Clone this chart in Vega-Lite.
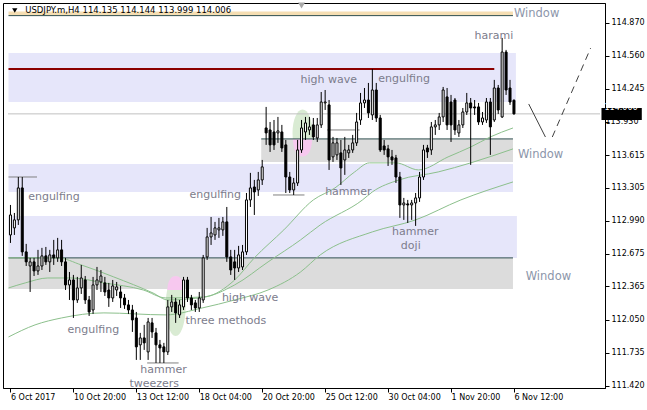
{
"$schema":"https://vega.github.io/schema/vega-lite/v6.json",
"width":602,"height":385,"autosize":{"type":"none"},
"padding":{"left":3,"top":3,"right":42,"bottom":22},
"background":"white",
"config":{"view":{"stroke":"black","strokeWidth":1},"font":"DejaVu Sans"},
"datasets":{
"bars":[
{"i":0,"o":112.855,"c":113.045,"h":113.140,"l":112.779},
{"i":1,"o":112.922,"c":112.998,"h":113.064,"l":112.855},
{"i":2,"o":112.998,"c":113.302,"h":113.406,"l":112.950},
{"i":3,"o":113.302,"c":112.694,"h":113.406,"l":112.656},
{"i":4,"o":112.694,"c":112.599,"h":112.770,"l":112.560},
{"i":5,"o":112.560,"c":112.599,"h":112.637,"l":112.313},
{"i":6,"o":112.599,"c":112.513,"h":112.637,"l":112.465},
{"i":7,"o":112.513,"c":112.560,"h":112.713,"l":112.475},
{"i":8,"o":112.560,"c":112.656,"h":112.732,"l":112.522},
{"i":9,"o":112.656,"c":112.599,"h":112.741,"l":112.570},
{"i":10,"o":112.599,"c":112.665,"h":112.713,"l":112.503},
{"i":11,"o":112.665,"c":112.637,"h":112.808,"l":112.570},
{"i":12,"o":112.637,"c":112.713,"h":112.827,"l":112.599},
{"i":13,"o":112.713,"c":112.599,"h":112.808,"l":112.560},
{"i":14,"o":112.599,"c":112.380,"h":112.637,"l":112.332},
{"i":15,"o":112.380,"c":112.427,"h":112.503,"l":112.237},
{"i":16,"o":112.427,"c":112.237,"h":112.475,"l":112.066},
{"i":17,"o":112.237,"c":112.351,"h":112.456,"l":112.209},
{"i":18,"o":112.351,"c":112.446,"h":112.570,"l":112.294},
{"i":19,"o":112.427,"c":112.237,"h":112.465,"l":112.199},
{"i":20,"o":112.237,"c":112.123,"h":112.275,"l":112.085},
{"i":21,"o":112.142,"c":112.380,"h":112.456,"l":112.104},
{"i":22,"o":112.380,"c":112.427,"h":112.551,"l":112.332},
{"i":23,"o":112.408,"c":112.465,"h":112.522,"l":112.313},
{"i":24,"o":112.399,"c":112.313,"h":112.456,"l":112.275},
{"i":25,"o":112.332,"c":112.256,"h":112.399,"l":112.171},
{"i":26,"o":112.256,"c":112.370,"h":112.427,"l":112.218},
{"i":27,"o":112.332,"c":112.361,"h":112.408,"l":112.275},
{"i":28,"o":112.313,"c":112.256,"h":112.370,"l":112.161},
{"i":29,"o":112.256,"c":112.190,"h":112.294,"l":112.152},
{"i":30,"o":112.190,"c":112.142,"h":112.237,"l":112.104},
{"i":31,"o":112.142,"c":112.047,"h":112.190,"l":111.933},
{"i":32,"o":112.066,"c":111.791,"h":112.123,"l":111.667},
{"i":33,"o":111.810,"c":111.876,"h":111.924,"l":111.667},
{"i":34,"o":111.876,"c":111.829,"h":112.000,"l":111.762},
{"i":35,"o":111.743,"c":112.028,"h":112.066,"l":111.667},
{"i":36,"o":112.019,"c":111.933,"h":112.066,"l":111.876},
{"i":37,"o":111.924,"c":111.810,"h":111.971,"l":111.638},
{"i":38,"o":111.810,"c":111.781,"h":111.857,"l":111.638},
{"i":39,"o":111.791,"c":111.743,"h":111.829,"l":111.638},
{"i":40,"o":111.743,"c":112.171,"h":112.237,"l":111.714},
{"i":41,"o":112.171,"c":112.218,"h":112.285,"l":112.123},
{"i":42,"o":112.218,"c":112.114,"h":112.256,"l":112.019},
{"i":43,"o":112.095,"c":112.190,"h":112.237,"l":112.066},
{"i":44,"o":112.171,"c":112.427,"h":112.456,"l":112.142},
{"i":45,"o":112.427,"c":112.256,"h":112.456,"l":112.218},
{"i":46,"o":112.256,"c":112.190,"h":112.285,"l":112.142},
{"i":47,"o":112.209,"c":112.161,"h":112.237,"l":112.123},
{"i":48,"o":112.161,"c":112.256,"h":112.313,"l":112.123},
{"i":49,"o":112.237,"c":112.637,"h":112.665,"l":112.209},
{"i":50,"o":112.646,"c":112.836,"h":112.922,"l":112.618},
{"i":51,"o":112.836,"c":112.874,"h":113.026,"l":112.760},
{"i":52,"o":112.855,"c":112.922,"h":112.979,"l":112.808},
{"i":53,"o":112.903,"c":112.922,"h":113.017,"l":112.827},
{"i":54,"o":112.903,"c":112.979,"h":113.026,"l":112.846},
{"i":55,"o":112.979,"c":112.646,"h":113.121,"l":112.599},
{"i":56,"o":112.646,"c":112.522,"h":112.713,"l":112.475},
{"i":57,"o":112.599,"c":112.541,"h":112.713,"l":112.427},
{"i":58,"o":112.541,"c":112.665,"h":112.751,"l":112.503},
{"i":59,"o":112.551,"c":112.694,"h":112.760,"l":112.522},
{"i":60,"o":112.694,"c":113.188,"h":113.254,"l":112.665},
{"i":61,"o":113.188,"c":113.302,"h":113.445,"l":113.121},
{"i":62,"o":113.311,"c":113.264,"h":113.378,"l":113.045},
{"i":63,"o":113.283,"c":113.378,"h":113.454,"l":113.226},
{"i":64,"o":113.378,"c":113.502,"h":113.568,"l":113.330},
{"i":65,"o":113.872,"c":113.825,"h":114.072,"l":113.711},
{"i":66,"o":113.853,"c":113.711,"h":113.929,"l":113.644},
{"i":67,"o":113.834,"c":113.711,"h":113.948,"l":113.663},
{"i":68,"o":113.825,"c":113.844,"h":113.977,"l":113.730},
{"i":69,"o":113.834,"c":113.682,"h":113.901,"l":113.644},
{"i":70,"o":113.711,"c":113.406,"h":113.758,"l":113.254},
{"i":71,"o":113.406,"c":113.283,"h":113.454,"l":113.254},
{"i":72,"o":113.283,"c":113.349,"h":113.397,"l":113.235},
{"i":73,"o":113.349,"c":113.663,"h":113.758,"l":113.321},
{"i":74,"o":113.663,"c":113.872,"h":113.948,"l":113.635},
{"i":75,"o":113.834,"c":113.920,"h":113.977,"l":113.758},
{"i":76,"o":113.853,"c":113.882,"h":113.977,"l":113.806},
{"i":77,"o":113.901,"c":113.787,"h":113.967,"l":113.758},
{"i":78,"o":113.777,"c":113.901,"h":113.967,"l":113.739},
{"i":79,"o":113.901,"c":114.119,"h":114.214,"l":113.872},
{"i":80,"o":114.110,"c":114.119,"h":114.233,"l":114.043},
{"i":81,"o":114.091,"c":113.568,"h":114.138,"l":113.473},
{"i":82,"o":113.597,"c":113.730,"h":113.787,"l":113.549},
{"i":83,"o":113.616,"c":113.730,"h":113.777,"l":113.568},
{"i":84,"o":113.635,"c":113.492,"h":113.758,"l":113.330},
{"i":85,"o":113.568,"c":113.663,"h":113.787,"l":113.426},
{"i":86,"o":113.635,"c":113.663,"h":113.711,"l":113.587},
{"i":87,"o":113.663,"c":113.730,"h":113.806,"l":113.635},
{"i":88,"o":113.730,"c":113.929,"h":114.015,"l":113.701},
{"i":89,"o":113.948,"c":114.110,"h":114.205,"l":113.901},
{"i":90,"o":114.110,"c":114.138,"h":114.252,"l":114.062},
{"i":91,"o":114.138,"c":114.015,"h":114.300,"l":113.967},
{"i":92,"o":113.996,"c":114.233,"h":114.433,"l":113.948},
{"i":93,"o":114.233,"c":113.967,"h":114.300,"l":113.929},
{"i":94,"o":113.967,"c":113.663,"h":113.996,"l":113.644},
{"i":95,"o":113.701,"c":113.663,"h":113.758,"l":113.616},
{"i":96,"o":113.673,"c":113.597,"h":113.711,"l":113.511},
{"i":97,"o":113.597,"c":113.568,"h":113.663,"l":113.521},
{"i":98,"o":113.587,"c":113.406,"h":113.616,"l":113.349},
{"i":99,"o":113.406,"c":113.140,"h":113.454,"l":113.017},
{"i":100,"o":113.140,"c":113.159,"h":113.207,"l":112.998},
{"i":101,"o":113.150,"c":113.140,"h":113.188,"l":112.969},
{"i":102,"o":113.140,"c":113.159,"h":113.188,"l":112.998},
{"i":103,"o":113.159,"c":113.207,"h":113.254,"l":112.941},
{"i":104,"o":113.207,"c":113.406,"h":113.454,"l":113.169},
{"i":105,"o":113.406,"c":113.663,"h":113.711,"l":113.378},
{"i":106,"o":113.682,"c":113.644,"h":113.711,"l":113.587},
{"i":107,"o":113.663,"c":113.882,"h":113.929,"l":113.616},
{"i":108,"o":113.882,"c":113.901,"h":113.948,"l":113.806},
{"i":109,"o":113.901,"c":113.977,"h":114.015,"l":113.853},
{"i":110,"o":113.977,"c":114.233,"h":114.262,"l":113.929},
{"i":111,"o":114.167,"c":113.901,"h":114.252,"l":113.853},
{"i":112,"o":114.119,"c":113.901,"h":114.186,"l":113.739},
{"i":113,"o":114.138,"c":113.853,"h":114.157,"l":113.806},
{"i":114,"o":113.825,"c":113.901,"h":113.948,"l":113.787},
{"i":115,"o":113.901,"c":114.024,"h":114.062,"l":113.872},
{"i":116,"o":114.024,"c":114.110,"h":114.205,"l":113.996},
{"i":117,"o":114.110,"c":114.062,"h":114.157,"l":113.521},
{"i":118,"o":114.072,"c":114.062,"h":114.138,"l":113.996},
{"i":119,"o":114.072,"c":113.929,"h":114.110,"l":113.901},
{"i":120,"o":113.929,"c":113.967,"h":114.024,"l":113.901},
{"i":121,"o":113.948,"c":114.119,"h":114.157,"l":113.920},
{"i":122,"o":114.119,"c":113.882,"h":114.157,"l":113.616},
{"i":123,"o":113.948,"c":114.252,"h":114.329,"l":113.929},
{"i":124,"o":114.252,"c":114.043,"h":114.281,"l":114.005},
{"i":125,"o":113.977,"c":114.594,"h":114.728,"l":113.967},
{"i":126,"o":114.594,"c":114.233,"h":114.614,"l":114.186},
{"i":127,"o":114.252,"c":114.119,"h":114.329,"l":114.091},
{"i":128,"o":114.135,"c":114.006,"h":114.144,"l":113.999}
],
"zones":[
{"kind":"tan","i":-0.5,"i2":127.75,"p":114.979,"p2":114.941},
{"kind":"lavender","i":-0.5,"i2":128.5,"p":114.585,"p2":114.119},
{"kind":"lavender","i":-0.5,"i2":127.75,"p":113.530,"p2":113.264},
{"kind":"lavender","i":-0.5,"i2":128.75,"p":113.036,"p2":112.637},
{"kind":"gray","i":63.75,"i2":127.75,"p":113.768,"p2":113.549},
{"kind":"gray","i":-0.5,"i2":127.75,"p":112.637,"p2":112.342}
],
"levels":[
{"kind":"last","i":-0.625,"i2":149.875,"p":114.006},
{"kind":"resistance","i":-0.5,"i2":123,"p":114.433},
{"kind":"edge","i":-0.5,"i2":127.75,"p":114.940},
{"kind":"edge","i":63.75,"i2":127.75,"p":113.768},
{"kind":"edge","i":-0.5,"i2":127.75,"p":112.637},
{"kind":"mark","i":-0.5,"i2":6.75,"p":113.406},
{"kind":"mark","i":66.75,"i2":74.75,"p":113.235},
{"kind":"mark","i":80.5,"i2":88.75,"p":113.853},
{"kind":"mark","i":34.75,"i2":42.75,"p":111.638}
],
"ma":[
{"s":"fast","i":-0.5,"p":112.637},{"s":"fast","i":12,"p":112.637},{"s":"fast","i":18,"p":112.570},{"s":"fast","i":26.25,"p":112.456},{"s":"fast","i":36.25,"p":112.303},{"s":"fast","i":40,"p":112.237},{"s":"fast","i":49.5,"p":112.265},{"s":"fast","i":57,"p":112.427},{"s":"fast","i":62,"p":112.637},{"s":"fast","i":69.5,"p":112.903},{"s":"fast","i":77,"p":113.188},{"s":"fast","i":82.5,"p":113.302},{"s":"fast","i":87.5,"p":113.454},{"s":"fast","i":91.25,"p":113.540},{"s":"fast","i":98,"p":113.540},{"s":"fast","i":103.75,"p":113.473},{"s":"fast","i":111.25,"p":113.597},{"s":"fast","i":117,"p":113.691},{"s":"fast","i":122,"p":113.787},{"s":"fast","i":127.75,"p":113.872},
{"s":"mid","i":-0.5,"p":112.351},{"s":"mid","i":3.75,"p":112.399},{"s":"mid","i":9.5,"p":112.446},{"s":"mid","i":15.5,"p":112.446},{"s":"mid","i":23.75,"p":112.399},{"s":"mid","i":33.75,"p":112.332},{"s":"mid","i":39.5,"p":112.256},{"s":"mid","i":48.75,"p":112.265},{"s":"mid","i":57,"p":112.380},{"s":"mid","i":65.5,"p":112.599},{"s":"mid","i":73.75,"p":112.808},{"s":"mid","i":78.75,"p":112.950},{"s":"mid","i":89.5,"p":113.188},{"s":"mid","i":92,"p":113.264},{"s":"mid","i":98.75,"p":113.378},{"s":"mid","i":108.75,"p":113.454},{"s":"mid","i":117,"p":113.540},{"s":"mid","i":127.75,"p":113.673},
{"s":"slow","i":-0.5,"p":111.885},{"s":"slow","i":6.25,"p":112.000},{"s":"slow","i":13,"p":112.066},{"s":"slow","i":23.75,"p":112.114},{"s":"slow","i":39.5,"p":112.095},{"s":"slow","i":48.75,"p":112.161},{"s":"slow","i":57,"p":112.237},{"s":"slow","i":65.5,"p":112.332},{"s":"slow","i":73.75,"p":112.503},{"s":"slow","i":78.75,"p":112.665},{"s":"slow","i":92,"p":112.884},{"s":"slow","i":103,"p":112.998},{"s":"slow","i":114.5,"p":113.188},{"s":"slow","i":127.75,"p":113.359}
],
"blobs":[
{"blob":"three methods","i":42,"p":112.180},
{"blob":"high wave","i":74.25,"p":113.824}
],
"labels":[
{"kind":"pattern","text":"harami","i":118,"p":114.746},
{"kind":"pattern","text":"high wave","i":73.75,"p":114.328},
{"kind":"pattern","text":"engulfing","i":93.5,"p":114.338},
{"kind":"pattern","text":"engulfing","i":4.5,"p":113.216},
{"kind":"pattern","text":"engulfing","i":45.5,"p":113.235},
{"kind":"pattern","text":"hammer","i":80,"p":113.264},
{"kind":"pattern","text":"hammer","i":97,"p":112.883},
{"kind":"pattern","text":"doji","i":99.25,"p":112.750},
{"kind":"pattern","text":"high wave","i":53.75,"p":112.256},
{"kind":"pattern","text":"three methods","i":44.5,"p":112.037},
{"kind":"pattern","text":"engulfing","i":14.5,"p":111.952},
{"kind":"pattern","text":"hammer","i":33,"p":111.567},
{"kind":"pattern","text":"tweezers","i":30.25,"p":111.438},
{"kind":"window","text":"Window","i":128,"p":114.956},
{"kind":"window","text":"Window","i":129,"p":113.615},
{"kind":"window","text":"Window","i":131,"p":112.456}
],
"projection":[
{"seg":"down","i":131.75,"p":114.100},{"seg":"down","i":136,"p":113.786},
{"seg":"up","i":137.75,"p":113.786},{"seg":"up","i":147.5,"p":114.632}
],
"header":[{"text":"USDJPY.m,H4  114.135 114.144 113.999 114.006","i":3.75,"p":114.994}],
"headmark":[{"what":"menu","i":1.1,"p":114.989}],
"shiftmark":[{"what":"shift","i":74,"p":115.036}],
"hidden":[{"text":"113.930","i":151.25,"p":113.930}],
"tag":[{"text":"114.006","i":150.25,"i2":160.5,"p":114.062,"p2":113.948}]
},
"encoding":{
"x":{"field":"i","type":"quantitative","title":null,"scale":{"domain":[-0.625,149.875],"nice":false,"zero":false},
 "axis":{"values":[0,16,32,48,64,80,96,112,128],"labelExpr":"['6 Oct 2017','10 Oct 20:00','13 Oct 12:00','18 Oct 04:00','20 Oct 20:00','25 Oct 12:00','30 Oct 04:00','1 Nov 20:00','6 Nov 12:00'][round(datum.value/16)]","labelAlign":"left","labelFlush":false,"labelOverlap":false,"tickSize":4,"labelPadding":1,"labelFont":"DejaVu Sans","labelFontSize":8,"labelColor":"black","tickColor":"black","domainColor":"black","grid":false}},
"y":{"field":"p","type":"quantitative","title":null,"scale":{"domain":[111.4,115.06],"nice":false,"zero":false},
 "axis":{"orient":"right","values":[111.42,111.735,112.05,112.365,112.675,112.99,113.305,113.615,113.93,114.245,114.56,114.87],"labelExpr":"datum.value == 113.93 ? '' : format(datum.value, '.3f')","labelFlush":false,"labelOverlap":false,"tickSize":4,"labelPadding":2,"labelFont":"DejaVu Sans","labelFontSize":8,"labelColor":"black","tickColor":"black","domainColor":"black","grid":false}}
},
"layer":[
{"data":{"name":"zones"},"transform":[{"filter":"datum.kind == 'tan'"}],"mark":{"type":"rect","color":"#F5DEB3"},
 "encoding":{"x2":{"field":"i2"},"y2":{"field":"p2"}}},
{"data":{"name":"zones"},"transform":[{"filter":"datum.kind == 'lavender'"}],"mark":{"type":"rect","color":"#E6E6FA"},
 "encoding":{"x2":{"field":"i2"},"y2":{"field":"p2"}}},
{"data":{"name":"zones"},"transform":[{"filter":"datum.kind == 'gray'"}],"mark":{"type":"rect","color":"#DCDCDC"},
 "encoding":{"x2":{"field":"i2"},"y2":{"field":"p2"}}},
{"data":{"name":"blobs"},"transform":[{"filter":"datum.blob == 'three methods'"}],
 "mark":{"type":"point","filled":true,"opacity":1,"strokeWidth":0,"color":"#D9EBD3","size":3600,
 "shape":"M0.333,0 C0.333,0.552 0.184,1 0,1 C-0.184,1 -0.333,0.552 -0.333,0 C-0.333,-0.552 -0.184,-1 0,-1 C0.184,-1 0.333,-0.552 0.333,0 Z"}},
{"data":{"name":"blobs"},"transform":[{"filter":"datum.blob == 'three methods'"}],
 "mark":{"type":"point","filled":true,"opacity":1,"strokeWidth":0,"color":"#F7C8EF","size":3600,
 "shape":"M-0.282,-0.533 C-0.26,-0.85 -0.16,-1 0,-1 C0.16,-1 0.26,-0.85 0.282,-0.533 Z"}},
{"data":{"name":"blobs"},"transform":[{"filter":"datum.blob == 'high wave'"}],
 "mark":{"type":"point","filled":true,"opacity":1,"strokeWidth":0,"color":"#D9EBD3","size":2209,
 "shape":"M0.426,0 C0.426,0.552 0.235,1 0,1 C-0.235,1 -0.426,0.552 -0.426,0 C-0.426,-0.552 -0.235,-1 0,-1 C0.235,-1 0.426,-0.552 0.426,0 Z"}},
{"data":{"name":"blobs"},"transform":[{"filter":"datum.blob == 'high wave'"}],
 "mark":{"type":"point","filled":true,"opacity":1,"strokeWidth":0,"color":"#F7C8EF","size":2209,
 "shape":"M-0.412,0.255 C-0.39,0.78 -0.22,1 0,1 C0.22,1 0.39,0.78 0.412,0.255 Z"}},
{"data":{"name":"levels"},"transform":[{"filter":"datum.kind == 'last'"}],"mark":{"type":"rule","strokeWidth":1,"color":"#C0C0C0"},
 "encoding":{"x2":{"field":"i2"}}},
{"data":{"name":"levels"},"transform":[{"filter":"datum.kind == 'edge'"}],"mark":{"type":"rule","strokeWidth":1,"color":"#2F4F4F"},
 "encoding":{"x2":{"field":"i2"}}},
{"data":{"name":"levels"},"transform":[{"filter":"datum.kind == 'mark'"}],"mark":{"type":"rule","strokeWidth":1,"color":"#808080"},
 "encoding":{"x2":{"field":"i2"}}},
{"data":{"name":"levels"},"transform":[{"filter":"datum.kind == 'resistance'"}],"mark":{"type":"rule","strokeWidth":2,"color":"#8B0000"},
 "encoding":{"x2":{"field":"i2"}}},
{"data":{"name":"ma"},"mark":{"type":"line","color":"#8CC08C","strokeWidth":1,"interpolate":"monotone"},
 "encoding":{"detail":{"field":"s","type":"nominal"}}},
{"data":{"name":"bars"},"mark":{"type":"rule","color":"black","strokeWidth":1},
 "encoding":{"y":{"field":"l","type":"quantitative","title":null,"scale":{"domain":[111.4,115.06],"nice":false,"zero":false}},"y2":{"field":"h"}}},
{"data":{"name":"bars"},"mark":{"type":"bar","size":2,"stroke":"black","strokeWidth":1},
 "encoding":{"y":{"field":"o","type":"quantitative","title":null,"scale":{"domain":[111.4,115.06],"nice":false,"zero":false}},"y2":{"field":"c"},
 "fill":{"condition":{"test":"datum.c < datum.o","value":"black"},"value":"white"}}},
{"data":{"name":"labels"},"transform":[{"filter":"datum.kind == 'pattern'"}],
 "mark":{"type":"text","align":"left","baseline":"middle","font":"DejaVu Sans","fontSize":11,"color":"#7C7C8C"},
 "encoding":{"text":{"field":"text"}}},
{"data":{"name":"labels"},"transform":[{"filter":"datum.kind == 'window'"}],
 "mark":{"type":"text","align":"left","baseline":"middle","font":"DejaVu Sans","fontSize":11.5,"color":"#8C96AA"},
 "encoding":{"text":{"field":"text"}}},
{"data":{"name":"projection"},"transform":[{"filter":"datum.seg == 'down'"}],
 "mark":{"type":"line","color":"#404040","strokeWidth":1},"encoding":{}},
{"data":{"name":"projection"},"transform":[{"filter":"datum.seg == 'up'"}],
 "mark":{"type":"line","color":"#404040","strokeWidth":1,"strokeDash":[7,5]},"encoding":{}},
{"data":{"name":"header"},"mark":{"type":"text","align":"left","baseline":"middle","font":"DejaVu Sans","fontSize":8.5,"color":"#000000"},
 "encoding":{"text":{"field":"text"}}},
{"data":{"name":"headmark"},"mark":{"type":"point","shape":"triangle-down","filled":true,"color":"black","size":28,"opacity":1}},
{"data":{"name":"shiftmark"},"mark":{"type":"point","shape":"triangle-down","filled":true,"color":"#A8A8A8","size":50,"opacity":1}},
{"data":{"name":"hidden"},"mark":{"type":"text","align":"left","baseline":"middle","font":"DejaVu Sans","fontSize":8,"color":"black"},
 "encoding":{"text":{"field":"text"}}},
{"data":{"name":"tag"},"mark":{"type":"rect","color":"black"},"encoding":{"x2":{"field":"i2"},"y2":{"field":"p2"}}},
{"data":{"name":"tag"},"mark":{"type":"text","align":"left","baseline":"middle","font":"DejaVu Sans","fontSize":8,"color":"white","dx":3},
 "encoding":{"y":{"field":"p","type":"quantitative","title":null,"scale":{"domain":[111.4,115.06],"nice":false,"zero":false}},"text":{"value":"114.006"}}}
]
}
